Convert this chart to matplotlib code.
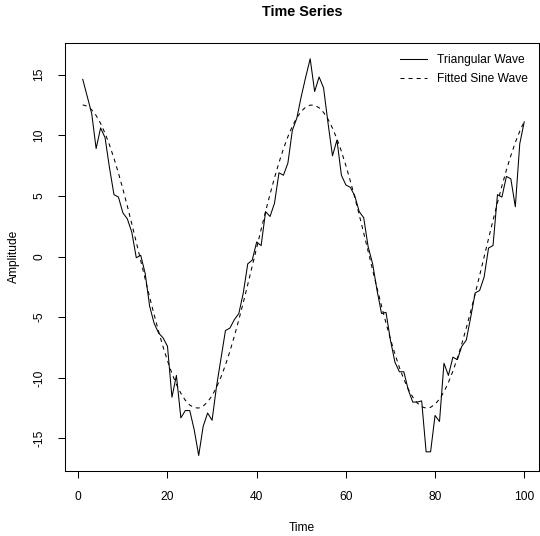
import matplotlib
matplotlib.use("Agg")
import matplotlib.pyplot as plt
from matplotlib.lines import Line2D

plt.rcParams['font.family'] = ['Liberation Sans', 'DejaVu Sans']
plt.rcParams['lines.scale_dashes'] = False
plt.rcParams['axes.unicode_minus'] = False

time = list(range(1, 101))

triangular_wave = [
    14.6, 13.2, 11.8, 8.9, 10.6, 9.8, 7.3, 5.1, 4.9, 3.6,
    3.1, 2.0, -0.1, 0.1, -1.4, -4.1, -5.5, -6.3, -6.7, -7.4,
    -11.6, -9.8, -13.3, -12.7, -12.7, -14.3, -16.4, -14.0, -12.9, -13.5,
    -10.7, -8.4, -6.1, -5.9, -5.2, -4.7, -3.0, -0.6, -0.3, 1.2,
    0.9, 3.7, 3.3, 4.4, 6.9, 6.7, 7.7, 10.4, 11.4, 13.2,
    14.8, 16.3, 13.6, 14.8, 13.9, 11.0, 8.3, 9.6, 6.7, 5.9,
    5.7, 5.0, 3.7, 3.2, 0.8, -0.6, -2.8, -4.7, -4.6, -6.9,
    -8.7, -9.5, -9.5, -11.0, -12.0, -12.0, -11.9, -16.1, -16.1, -13.1,
    -13.6, -8.8, -9.8, -8.3, -8.5, -7.4, -6.9, -5.0, -3.0, -2.8,
    -1.7, 0.7, 0.9, 5.1, 4.9, 6.6, 6.4, 4.1, 9.3, 11.1,
]

fitted_sine = [
    12.50, 12.39, 12.09, 11.62, 10.97, 10.16, 9.19, 8.09, 6.88, 5.56,
    4.15, 2.69, 1.18, -0.34, -1.86, -3.35, -4.79, -6.16, -7.44, -8.60,
    -9.64, -10.54, -11.28, -11.85, -12.25, -12.46, -12.49, -12.33, -11.99, -11.47,
    -10.78, -9.93, -8.94, -7.81, -6.56, -5.21, -3.79, -2.31, -0.80, 0.72,
    2.24, 3.72, 5.14, 6.49, 7.74, 8.88, 9.88, 10.74, 11.44, 11.97,
    12.32, 12.48, 12.47, 12.26, 11.88, 11.32, 10.58, 9.70, 8.67, 7.50,
    6.23, 4.87, 3.43, 1.94, 0.42, -1.10, -2.61, -4.08, -5.48, -6.81,
    -8.03, -9.14, -10.11, -10.93, -11.59, -12.07, -12.38, -12.50, -12.43, -12.18,
    -11.75, -11.15, -10.38, -9.45, -8.39, -7.20, -5.90, -4.51, -3.06, -1.56,
    -0.04, 1.48, 2.98, 4.43, 5.82, 7.13, 8.32, 9.40, 10.33, 11.11,
]

x_ticks = [0, 20, 40, 60, 80, 100]
y_ticks = [-15, -10, -5, 0, 5, 10, 15]

W, H = 540, 536
fig = plt.figure(figsize=(W / 100, H / 100), dpi=100)
left_px, right_px, top_px, bottom_px = 65.1, 538.5, 43, 471
ax = fig.add_axes([left_px / W, (H - bottom_px) / H,
                   (right_px - left_px) / W, (bottom_px - top_px) / H])

lw = 0.75
ax.plot(time, triangular_wave, color='black', lw=lw, label='Triangular Wave')
ax.plot(time, fitted_sine, color='black', lw=lw, linestyle=(0, (2.9, 2.9)),
        label='Fitted Sine Wave')

ax.set_xlim(-2.96, 103.2)
ax.set_ylim(-17.68, 17.6)
ax.set_xticks(x_ticks)
ax.set_yticks(y_ticks)
fs = 8.64
ax.tick_params(axis='both', direction='out', length=5.0, width=lw,
               labelsize=fs, colors='black')
ax.tick_params(axis='x', pad=9.5)
ax.tick_params(axis='y', pad=9.4)
for lab in ax.get_yticklabels():
    lab.set_rotation(90)
    lab.set_va('center')
for sp in ax.spines.values():
    sp.set_linewidth(lw)

fig.text(302 / W, 1 - 12.5 / H, 'Time Series', ha='center', va='center',
         fontsize=10.4, fontweight='bold')
fig.text(302 / W, 1 - 528 / H, 'Time', ha='center', va='center', fontsize=fs)
fig.text(13.5 / W, 1 - 256.5 / H, 'Amplitude', ha='center', va='center',
         fontsize=fs, rotation=90)

handles = [Line2D([], [], color='black', lw=lw),
           Line2D([], [], color='black', lw=lw, linestyle=(0, (2.9, 2.9)))]
ax.legend(handles, ['Triangular Wave', 'Fitted Sine Wave'],
          loc='upper left', bbox_to_anchor=(400 / W, 1 - 54.5 / H),
          bbox_transform=fig.transFigure, frameon=False, fontsize=fs,
          borderpad=0, borderaxespad=0, handlelength=2.25,
          handletextpad=0.83, labelspacing=0.52)

fig.savefig('out.png', dpi=100)
